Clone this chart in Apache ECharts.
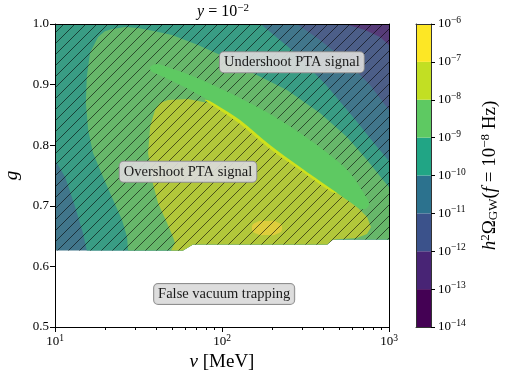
<!DOCTYPE html>
<html><head><meta charset="utf-8">
<script src="https://cdn.jsdelivr.net/npm/echarts@6/dist/echarts.min.js"></script>
<style>html,body{margin:0;padding:0;background:#fff}#c{width:505px;height:379px}</style>
</head><body><div id="c"></div>
<script>
// ================= DATA =================
const xMajorTicks = [10, 100, 1000];
const xMinorTicks = [20,30,40,50,60,70,80,90,200,300,400,500,600,700,800,900];
const yTicks = [0.5,0.6,0.7,0.8,0.9,1.0];
const levelExponents = [-14,-13,-12,-11,-10,-9,-8,-7,-6];
const levelColors = ['#440154','#482475','#3b528b','#2c728e','#21a585','#5ec962','#c2df23','#fde725'];

// contour region boundaries, points as [v (MeV), g]
const regionComputed = [[10,1.0],[1000,1.0],[1000,0.6444],[462,0.6444],[426,0.6361],[67,0.6361],[58.4,0.6262],[10,0.6262]];
const regionBlue = [[281,1.0],[386,0.9736],[545,0.9406],[770,0.8993],[1000,0.8581],[1000,1.0]];
const regionPurple = [[545,1.0],[718,0.9901],[884,0.9785],[1000,0.9653],[1000,1.0]];
const regionTeal = [[10,1.0],[170,1.0],[262,0.9571],[420,0.8993],[630,0.8416],[830,0.8003],[1000,0.7740],[1000,0.6444],[462,0.6444],[426,0.6361],[67,0.6361],[58.4,0.6262],[15.5,0.6262],[14.7,0.6551],[13.2,0.6980],[11.5,0.7475],[10,0.7756]];
const regionGreen = [[22.0,0.9917],[26.3,0.995],[31.4,0.9934],[39.7,0.988],[50.2,0.9818],[71.8,0.9653],[104,0.9455],[153,0.9191],[245,0.8911],[386,0.8531],[560,0.8135],[739,0.7756],[921,0.7426],[1000,0.7310],[1000,0.6444],[462,0.6444],[426,0.6361],[67,0.6361],[58.4,0.6262],[27.4,0.6262],[27.0,0.6485],[25.2,0.6766],[22.3,0.7096],[19.4,0.7475],[16.9,0.7871],[15.8,0.8251],[15.3,0.8696],[15.5,0.9125],[16.2,0.9521],[18.1,0.9785],[19.9,0.988]];
const regionOlive = [[39.7,0.8581],[42.5,0.8696],[47.5,0.8746],[62.6,0.8762],[82.5,0.8696],[104,0.8630],[123,0.8465],[194,0.8135],[306,0.7756],[444,0.7376],[609,0.7046],[739,0.6815],[780,0.665],[739,0.6535],[640,0.6469],[462,0.6444],[426,0.6361],[67,0.6361],[58.4,0.6262],[49.5,0.6262],[52.3,0.6386],[50.9,0.6485],[46.9,0.6716],[41.4,0.7046],[38.1,0.7426],[36.1,0.7871],[37.1,0.8300]];
const regionYellow = [[151,0.6634],[160,0.6724],[186,0.6749],[216,0.6724],[229,0.6634],[216,0.6543],[186,0.6518],[160,0.6543]];
const ptaBand = [[37.1,0.9290],[40.8,0.9340],[48.8,0.9274],[64.3,0.9158],[90.8,0.8977],[128.2,0.8779],[193.9,0.8515],[293.2,0.8201],[443.5,0.7838],[584,0.7541],[698.8,0.7228],[759,0.7046],[738.5,0.6964],[679.6,0.6947],[584,0.7063],[443.5,0.7294],[293.2,0.7640],[193.9,0.8003],[128.2,0.8416],[90.8,0.8680],[64.3,0.8911],[48.8,0.9076],[40.8,0.9175],[37.6,0.9224]];
const ptaEdge = [[79.1,0.8746],[90.8,0.8696],[128.2,0.8449],[193.9,0.8036],[293.2,0.7673],[443.5,0.7310],[488.3,0.7211],[443.5,0.7244],[293.2,0.7591],[193.9,0.7937],[128.2,0.8350],[90.8,0.8630]];

const annotations = [
  {text:'Undershoot PTA signal', v:262, g:0.937},
  {text:'Overshoot PTA signal', v:62.6, g:0.756},
  {text:'False vacuum trapping', v:103, g:0.5545}
];

// ================= STYLE =================
const FONT = 'Liberation Serif';
function mix(hex, w){
  const n = parseInt(hex.slice(1),16);
  const r=(n>>16)&255, g=(n>>8)&255, b=n&255;
  const f=c=>Math.round(c*w+128*(1-w));
  return 'rgb('+f(r)+','+f(g)+','+f(b)+')';
}
const regions = [
  {pts: regionComputed, level:3},
  {pts: regionBlue, level:2},
  {pts: regionPurple, level:1},
  {pts: regionTeal, level:4},
  {pts: regionGreen, level:5},
  {pts: regionOlive, level:6},
  {pts: regionYellow, level:7, smooth:0.6}
];
function hatchCanvas(s){
  const c=document.createElement('canvas'); c.width=s; c.height=s;
  const ctx=c.getContext('2d');
  ctx.strokeStyle='rgba(0,0,0,0.58)'; ctx.lineWidth=1;
  ctx.beginPath();
  ctx.moveTo(-1,s+1); ctx.lineTo(s+1,-1);
  ctx.moveTo(-1,1); ctx.lineTo(1,-1);
  ctx.moveTo(s-1,s+1); ctx.lineTo(s+1,s-1);
  ctx.stroke();
  return c;
}
const hatch = hatchCanvas(11);

const tickRich = {
  b:{fontFamily:FONT, fontSize:13, color:'#000'},
  s:{fontFamily:FONT, fontSize:9.5, color:'#000', padding:[0,0,7,0]}
};
const nameRich = {
  i:{fontFamily:FONT, fontSize:19, fontStyle:'italic', color:'#000'},
  r:{fontFamily:FONT, fontSize:19, color:'#000'},
  sup:{fontFamily:FONT, fontSize:13, color:'#000', padding:[0,0,9,0]},
  sub:{fontFamily:FONT, fontSize:13, color:'#000', padding:[7,0,0,0]}
};
const expLabel = e => '{b|10}{s|' + (e<0?'\u2212':'') + Math.abs(e) + '}';

const chart = echarts.init(document.getElementById('c'), null, {renderer:'canvas'});
const hiddenAxis = (extra) => Object.assign({
  axisTick:{show:false}, axisLabel:{show:false}, splitLine:{show:false},
  axisLine:{show:true, onZero:false, lineStyle:{color:'#000', width:1}}, z:10
}, extra);

chart.setOption({
  animation:false,
  backgroundColor:'#fff',
  grid:[
    {left:55, top:24, width:334, height:303, outerBoundsMode:'none'},
    {left:416, top:24, width:15, height:303, outerBoundsMode:'none'}
  ],
  xAxis:[
    {gridIndex:0, type:'log', logBase:10, min:xMajorTicks[0], max:xMajorTicks[2], position:'bottom',
     axisLine:{show:true, onZero:false, lineStyle:{color:'#000', width:1}},
     axisTick:{show:true, inside:false, length:5, lineStyle:{color:'#000', width:1}},
     axisLabel:{margin:6, formatter:v=>expLabel(Math.round(Math.log10(v))), rich:tickRich},
     splitLine:{show:false},
     name:'{i|v}{r| [MeV]}', nameLocation:'middle', nameGap:15, nameTextStyle:{rich:nameRich},
     z:10},
    hiddenAxis({gridIndex:0, type:'log', logBase:10, min:10, max:1000, position:'top'}),
    hiddenAxis({gridIndex:1, type:'value', min:0, max:1, position:'bottom', axisLine:{show:true,onZero:false,lineStyle:{color:'#333',width:1}}}),
    hiddenAxis({gridIndex:1, type:'value', min:0, max:1, position:'top', axisLine:{show:true,onZero:false,lineStyle:{color:'#333',width:1}}})
  ],
  yAxis:[
    {gridIndex:0, type:'value', min:yTicks[0], max:yTicks[yTicks.length-1], interval:0.1, position:'left',
     axisLine:{show:true, onZero:false, lineStyle:{color:'#000', width:1}},
     axisTick:{show:true, inside:false, length:5, lineStyle:{color:'#000', width:1}},
     axisLabel:{margin:6, formatter:v=>v.toFixed(1), fontFamily:FONT, fontSize:13, color:'#000'},
     splitLine:{show:false},
     name:'{i|g}', nameLocation:'middle', nameGap:29, nameRotate:90, nameTextStyle:{rich:nameRich},
     z:10},
    hiddenAxis({gridIndex:0, type:'value', min:0.5, max:1.0, position:'right'}),
    {gridIndex:1, type:'value', min:levelExponents[0], max:levelExponents[levelExponents.length-1], interval:1, position:'right',
     axisLine:{show:true, onZero:false, lineStyle:{color:'#333', width:1}},
     axisTick:{show:true, inside:false, length:4, lineStyle:{color:'#000', width:1}},
     axisLabel:{margin:7, showMinLabel:true, showMaxLabel:true, formatter:v=>expLabel(v), rich:tickRich},
     splitLine:{show:false},
     name:'{i|h}{sup|2}{r|\u03A9}{sub|GW}{r|(}{i|f}{r| = 10}{sup|\u22128}{r| Hz)}', nameLocation:'middle', nameRotate:90, nameGap:48,
     nameTextStyle:{rich:nameRich},
     z:10},
    hiddenAxis({gridIndex:1, type:'value', min:-14, max:-6, position:'left', axisLine:{show:true,onZero:false,lineStyle:{color:'#333',width:1}}})
  ],
  graphic:[
    {type:'text', x:223, y:12, style:{text:'{i|y}{r| = 10}{s|\u22122}', align:'center', verticalAlign:'middle',
      rich:{i:{fontFamily:FONT,fontSize:16,fontStyle:'italic',fill:'#000'}, r:{fontFamily:FONT,fontSize:16,fill:'#000'}, s:{fontFamily:FONT,fontSize:11,fill:'#000',padding:[0,0,8,0]}}}}
  ],
  series:[
    {type:'custom', xAxisIndex:0, yAxisIndex:0, clip:true, z:2,
     data: regions.map((r,i)=>[r.pts[0][0], r.pts[0][1], i]),
     renderItem:(params, api)=>{
       const r = regions[params.dataIndex];
       return {type:'polygon', shape:{points:r.pts.map(p=>api.coord(p)), smooth:r.smooth||0},
               style:{fill:mix(levelColors[r.level], 0.75)}};
     }},
    {type:'custom', xAxisIndex:0, yAxisIndex:0, clip:true, z:3,
     data:[[regionComputed[0][0], regionComputed[0][1]]],
     renderItem:(params, api)=>({type:'polygon', shape:{points:regionComputed.map(p=>api.coord(p))},
       style:{fill:{image:hatch, repeat:'repeat'}}})},
    {type:'custom', xAxisIndex:0, yAxisIndex:0, clip:true, z:4,
     data:[[ptaEdge[0][0], ptaEdge[0][1], 0],[ptaBand[0][0], ptaBand[0][1], 1]],
     renderItem:(params, api)=>{
       const pts = params.dataIndex===0 ? ptaEdge : ptaBand;
       const col = params.dataIndex===0 ? '#cfe11c' : levelColors[5];
       return {type:'polygon', shape:{points:pts.map(p=>api.coord(p)), smooth:0.35}, style:{fill:col}};
     }},
    {type:'custom', xAxisIndex:0, yAxisIndex:0, clip:false, z:5,
     data: xMinorTicks.map(v=>[v, yTicks[0]]),
     renderItem:(params, api)=>{
       const p = api.coord([api.value(0), api.value(1)]);
       const x = Math.round(p[0])+0.5;
       return {type:'line', shape:{x1:x, y1:p[1], x2:x, y2:p[1]+3}, style:{stroke:'#000', lineWidth:1}};
     }},
    {type:'custom', xAxisIndex:0, yAxisIndex:0, clip:false, z:6,
     data: annotations.map(a=>[a.v, a.g]),
     renderItem:(params, api)=>{
       const a = annotations[params.dataIndex];
       const p = api.coord([a.v, a.g]);
       return {type:'text', x:p[0], y:p[1], style:{text:a.text, fontFamily:FONT, fontSize:14.5, fill:'#1a1a1a',
         align:'center', verticalAlign:'middle', backgroundColor:'rgba(218,218,218,0.92)', borderColor:'#8f8f8f',
         borderWidth:1, borderRadius:4, padding:[3,4,2,4]}};
     }},
    {type:'custom', xAxisIndex:2, yAxisIndex:2, clip:false, z:2,
     data: levelColors.map((c,i)=>[0, levelExponents[i], levelExponents[i+1]]),
     encode:{x:0, y:[1,2]},
     renderItem:(params, api)=>{
       const a = api.coord([0, api.value(1)]);
       const b = api.coord([1, api.value(2)]);
       return {type:'rect', shape:{x:a[0], y:b[1], width:b[0]-a[0], height:a[1]-b[1]},
               style:{fill:levelColors[params.dataIndex]}};
     }}
  ]
});
</script></body></html>
